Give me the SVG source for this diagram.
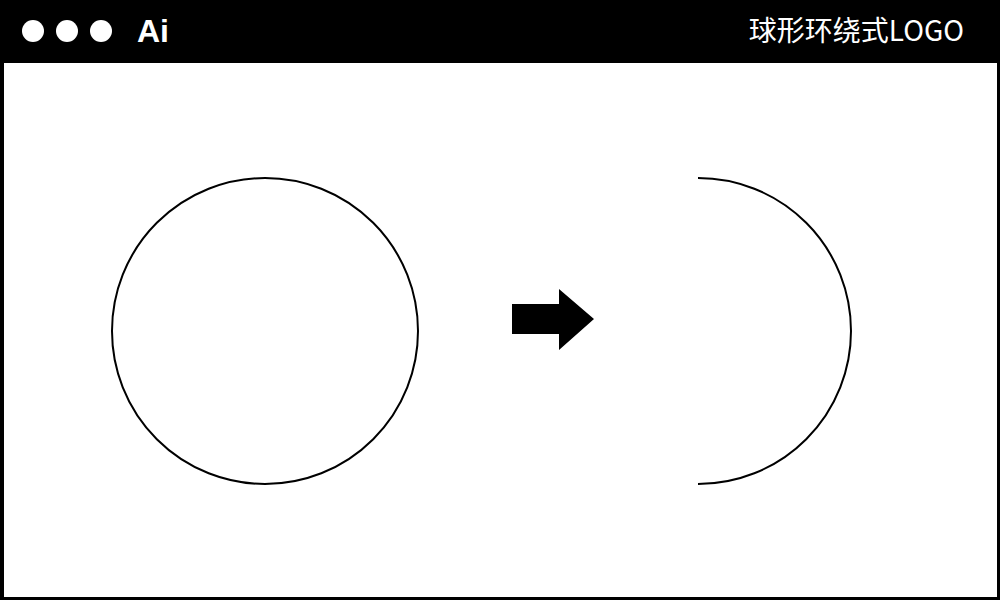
<svg xmlns="http://www.w3.org/2000/svg" width="1000" height="600" viewBox="0 0 1000 600">
<style>
.line{fill:none;stroke:#000;stroke-width:2}
</style>
<rect x="0" y="0" width="1000" height="600" fill="#000"/>
<rect x="4" y="63" width="993" height="534" fill="#fff"/>
<g id="header">
<circle cx="33" cy="31" r="11" fill="#fff"/>
<circle cx="67" cy="31" r="11" fill="#fff"/>
<circle cx="101" cy="31" r="11" fill="#fff"/>
<text x="137" y="42" font-family="Liberation Sans, Arial, sans-serif" font-weight="bold" font-size="32" fill="#fff">Ai</text>
<text x="964" y="41" text-anchor="end" font-family="Noto Sans CJK SC, sans-serif" font-size="28" fill="#fff">球形环绕式LOGO</text>
</g>
<g id="circle">
<circle class="line" cx="265" cy="331" r="153"/>
</g>
<g id="connectors">
<polygon points="512,304 559,304 559,289 594,319 559,350 559,334 512,334" fill="#000"/>
</g>
<g id="halfcircle">
<path class="line" d="M698,178 A153,153 0 0 1 698,484"/>
</g>
</svg>
